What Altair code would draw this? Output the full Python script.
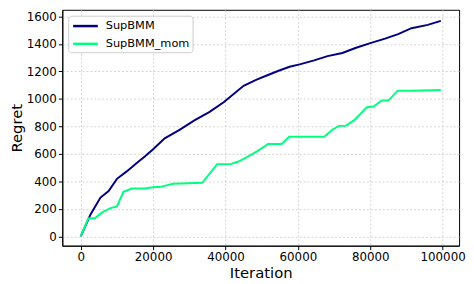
import altair as alt
import pandas as pd

series_names = ["SupBMM", "SupBMM_mom"]
colors = ["#000080", "#00ff7f"]

sup_x = [0, 2700, 5450, 7700, 10000, 12700, 15400, 17700, 20000, 23200, 27300, 31400,
         35500, 39500, 45000, 48600, 51400, 54500, 57700, 60500, 64500, 68200, 72300,
         75900, 80000, 84100, 87700, 91400, 95900, 99500]
sup_y = [0, 160, 283, 330, 419, 473, 533, 581, 634, 713, 775, 844,
         904, 976, 1095, 1140, 1170, 1203, 1234, 1251, 1280, 1311, 1334,
         1370, 1406, 1438, 1471, 1514, 1538, 1567]

mom_x = [0, 2100, 3900, 5900, 8200, 10000, 11800, 14100, 17700, 20500, 21800, 25500,
         33600, 37700, 41400, 43600, 45900, 48600, 51800, 55500, 57600, 67300, 69600,
         71400, 73200, 75500, 79100, 80900, 83200, 85000, 87600, 91400, 99500]
mom_y = [0, 132, 132, 175, 206, 218, 325, 349, 349, 359, 359, 383,
         390, 526, 526, 545, 577, 617, 672, 672, 725, 725, 778,
         804, 804, 844, 940, 945, 988, 988, 1060, 1060, 1065]

x_ticks = [0, 20000, 40000, 60000, 80000, 100000]
y_ticks = [0, 200, 400, 600, 800, 1000, 1200, 1400, 1600]

rows = []
for i, (xs, ys) in enumerate([(sup_x, sup_y), (mom_x, mom_y)]):
    for k, (a, b) in enumerate(zip(xs, ys)):
        rows.append({"Iteration": a, "Regret": b, "series": series_names[i], "order": k})
df = pd.DataFrame(rows)

chart = alt.Chart(df).mark_line(strokeWidth=2).encode(
    x=alt.X("Iteration:Q",
            scale=alt.Scale(domain=[-5100, 104550], nice=False, zero=False),
            axis=alt.Axis(values=x_ticks, format="d", title="Iteration")),
    y=alt.Y("Regret:Q",
            scale=alt.Scale(domain=[-67, 1648], nice=False, zero=False),
            axis=alt.Axis(values=y_ticks, format="d", title="Regret")),
    color=alt.Color("series:N",
                    scale=alt.Scale(domain=series_names, range=colors),
                    legend=alt.Legend(title=None)),
    order="order:Q",
).properties(
    width=402,
    height=239,
    autosize=alt.AutoSizeParams(type="none"),
    padding={"left": 55, "top": 0, "right": 7, "bottom": 36},
).configure_view(
    stroke="black", strokeWidth=1
).configure_axis(
    domainColor="black", domainWidth=1,
    tickColor="black", tickSize=4, tickWidth=1,
    labelFont="DejaVu Sans", labelFontSize=12, labelColor="black", labelPadding=2,
    titleFont="DejaVu Sans", titleFontSize=15, titleFontWeight="normal", titleColor="black",
    grid=True, gridDash=[2, 2], gridColor="#c8c8c8", gridWidth=0.8,
).configure_axisX(
    titlePadding=3
).configure_axisY(
    titlePadding=2
).configure_legend(
    orient="none", legendX=6, legendY=6,
    fillColor="white", strokeColor="#cccccc", cornerRadius=3, padding=3,
    labelFont="DejaVu Sans", labelFontSize=11.5, labelColor="black", labelOffset=13,
    symbolType="M-2,0L2,0", symbolStrokeWidth=2.5, symbolSize=156, symbolOffset=7,
    rowPadding=5,
)

chart.save("out.html", embed_options={"renderer": "svg", "actions": False})
